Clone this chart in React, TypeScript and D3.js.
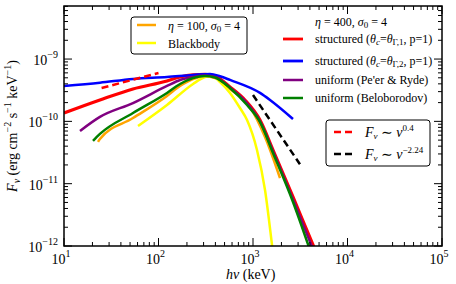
import React from "react";
import * as d3 from "d3";

const W = 456;
const H = 284;
const M = { left: 64, right: 442, top: 6, bottom: 246 };

// structured (theta_c = theta_Gamma,1, p=1) - red
const redE = [10, 24.0, 53.7, 123, 169, 232, 310.5, 396, 571, 822, 1186, 1629, 2650, 4315, 4645];
const redF = [1.36e-10, 2.2e-10, 3.31e-10, 4.45e-10, 5.16e-10, 5.56e-10, 5.66e-10, 5.36e-10, 3.56e-10, 2.2e-10, 1.05e-10, 3.47e-11, 6.12e-12, 1.04e-12, 8.0e-13];
// structured (theta_c = theta_Gamma,2, p=1) - blue
const blueE = [10, 24.0, 53.7, 123, 232, 351, 448, 571, 1186, 1514, 2650];
const blueF = [3.7e-10, 4.18e-10, 4.79e-10, 5.16e-10, 5.56e-10, 5.77e-10, 5.3e-10, 4.62e-10, 2.86e-10, 2.2e-10, 1.09e-10];
// uniform (Pe'er & Ryde) - purple
const purpleE = [14.77, 24.0, 53.7, 123, 169, 232, 310.5, 396, 571, 822, 1186, 1629, 2650, 4300];
const purpleF = [7.02e-11, 1.18e-10, 1.97e-10, 3.7e-10, 4.62e-10, 5.16e-10, 5.46e-10, 5.16e-10, 3.5e-10, 2.13e-10, 1.0e-10, 3.3e-11, 5.6e-12, 9e-13];
// uniform (Beloborodov) - green
const greenE = [20.27, 24.0, 53.7, 123, 169, 232, 310.5, 396, 571, 865, 1186, 1629, 2650, 4009];
const greenF = [4.85e-11, 6.28e-11, 1.36e-10, 2.86e-10, 3.98e-10, 4.97e-10, 5.36e-10, 5.07e-10, 3.44e-10, 1.83e-10, 9.78e-11, 3.11e-11, 5.08e-12, 8.6e-13];
// eta = 100, sigma0 = 4 - orange
const orangeE = [22.9, 24.0, 53.7, 123, 169, 232, 310.5, 396, 571, 929, 1340, 1932];
const orangeF = [4.67e-11, 5.22e-11, 1.13e-10, 2.56e-10, 3.7e-10, 4.79e-10, 5.26e-10, 4.97e-10, 3.31e-10, 1.7e-10, 5.62e-11, 1.23e-11];
// Blackbody - yellow
const yellowE = [60.7, 123, 232, 310.5, 368, 448, 571, 728, 865, 1102, 1340, 1589, 1640];
const yellowF = [8.43e-11, 1.83e-10, 3.98e-10, 5.16e-10, 5.36e-10, 4.28e-10, 2.86e-10, 1.64e-10, 1.05e-10, 3.47e-11, 7.92e-12, 1.04e-12, 7e-13];
// reference power laws
const slopeLowE = [25, 100];
const slopeLowF = [3.43e-10, 5.98e-10];
const slopeHighE = [1000, 3140];
const slopeHighF = [2.65e-10, 2.05e-11];

const xDomain = [10, 1e5];
const yDomain = [1e-12, 7.1e-9];
const xMajors = [1, 2, 3, 4, 5];
const yMajors = [-12, -11, -10, -9];

const FONT = "'Liberation Serif', 'Times New Roman', 'DejaVu Serif', serif";

export default function App() {
  const x = d3.scaleLog().domain(xDomain).range([M.left, M.right]);
  const y = d3.scaleLog().domain(yDomain).range([M.bottom, M.top]);

  const line = d3
    .line<[number, number]>()
    .x((d) => x(d[0]))
    .y((d) => y(d[1]))
    .curve(d3.curveMonotoneX);

  const mk = (e: number[], f: number[]) => line(e.map((v, i) => [v, f[i]] as [number, number])) || "";

  const xTicks: { v: number; major: boolean }[] = [];
  for (let p = 1; p < 5; p++) {
    for (let k = 1; k < 10; k++) xTicks.push({ v: k * Math.pow(10, p), major: k === 1 });
  }
  xTicks.push({ v: 1e5, major: true });
  const yTicks: { v: number; major: boolean }[] = [];
  for (let p = -12; p < -8; p++) {
    for (let k = 1; k < 10; k++) {
      const v = k * Math.pow(10, p);
      if (v <= yDomain[1] * 1.0001) yTicks.push({ v, major: k === 1 });
    }
  }

  const series = [
    { e: orangeE, f: orangeF, c: "#ffa500", w: 2.5 },
    { e: yellowE, f: yellowF, c: "#ffff00", w: 2.5 },
    { e: redE, f: redF, c: "#ff0000", w: 3.2 },
    { e: blueE, f: blueF, c: "#0000ff", w: 2.5 },
    { e: purpleE, f: purpleF, c: "#800080", w: 2.5 },
    { e: greenE, f: greenF, c: "#008000", w: 2.5 },
  ];

  const supLabel = (base: string, exp: string) => (
    <>
      <tspan>{base}</tspan>
      <tspan dy={-7} fontSize={10}>
        {exp}
      </tspan>
    </>
  );

  return (
    <svg
      width={W}
      height={H}
      style={{ position: "absolute", left: 0, top: 0, background: "#fff", fontFamily: FONT }}
    >
      <style>{`text, tspan { font-family: ${FONT}; }`}</style>
      <defs>
        <clipPath id="plot">
          <rect x={M.left} y={M.top} width={M.right - M.left} height={M.bottom - M.top} />
        </clipPath>
      </defs>
      <rect x={0} y={0} width={W} height={H} fill="#fff" />

      <g clipPath="url(#plot)">
        {series.map((s, i) => (
          <path key={i} d={mk(s.e, s.f)} fill="none" stroke={s.c} strokeWidth={s.w} />
        ))}
        <path d={mk(slopeLowE, slopeLowF)} fill="none" stroke="#ff0000" strokeWidth={2.5} strokeDasharray="7,4" />
        <path d={mk(slopeHighE, slopeHighF)} fill="none" stroke="#000" strokeWidth={2.5} strokeDasharray="7,4" />
      </g>

      <rect
        x={M.left}
        y={M.top}
        width={M.right - M.left}
        height={M.bottom - M.top}
        fill="none"
        stroke="#000"
        strokeWidth={1.5}
      />

      {xTicks.map((t, i) => {
        const px = x(t.v);
        const len = t.major ? 8 : 4;
        return (
          <g key={"xt" + i} stroke="#000" strokeWidth={1}>
            <line x1={px} x2={px} y1={M.bottom} y2={M.bottom - len} />
            <line x1={px} x2={px} y1={M.top} y2={M.top + len} />
          </g>
        );
      })}
      {yTicks.map((t, i) => {
        const py = y(t.v);
        const len = t.major ? 8 : 4;
        return (
          <g key={"yt" + i} stroke="#000" strokeWidth={1}>
            <line x1={M.left} x2={M.left + len} y1={py} y2={py} />
            <line x1={M.right} x2={M.right - len} y1={py} y2={py} />
          </g>
        );
      })}

      {xMajors.map((p) => (
        <text key={"xl" + p} x={x(Math.pow(10, p)) - 3} y={264} fontSize={14} textAnchor="middle">
          {supLabel("10", String(p))}
        </text>
      ))}
      {yMajors.map((p) => (
        <text key={"yl" + p} x={58} y={y(Math.pow(10, p)) + 6} fontSize={14} textAnchor="end">
          {supLabel("10", "\u2212" + String(-p))}
        </text>
      ))}

      <text x={226} y={279} fontSize={14}>
        <tspan fontStyle="italic">hν</tspan>
        <tspan> (keV)</tspan>
      </text>
      <text transform="translate(17,126) rotate(-90)" fontSize={14} textAnchor="middle">
        <tspan fontStyle="italic">F</tspan>
        <tspan fontStyle="italic" fontSize={10} dy={3}>ν</tspan>
        <tspan dy={-3}> (erg cm</tspan>
        <tspan fontSize={10} dy={-6}>−2</tspan>
        <tspan dy={6}> s</tspan>
        <tspan fontSize={10} dy={-6}>−1</tspan>
        <tspan dy={6}> keV</tspan>
        <tspan fontSize={10} dy={-6}>−1</tspan>
        <tspan dy={6}>)</tspan>
      </text>

      {/* legend 1 */}
      <rect x={131} y={17} width={116} height={37} rx={3} fill="#fff" stroke="#000" strokeWidth={1} />
      <line x1={137} x2={156} y1={25} y2={25} stroke="#ffa500" strokeWidth={2.5} />
      <text x={168} y={29.5} fontSize={12}>
        <tspan fontStyle="italic">η</tspan>
        <tspan> = 100, </tspan>
        <tspan fontStyle="italic">σ</tspan>
        <tspan fontSize={9} dy={2}>0</tspan>
        <tspan dy={-2}> = 4</tspan>
      </text>
      <line x1={137} x2={156} y1={43} y2={43} stroke="#ffff00" strokeWidth={2.5} />
      <text x={168} y={47.5} fontSize={12}>
        Blackbody
      </text>

      {/* legend 2 (no frame) */}
      <text x={315} y={26} fontSize={12}>
        <tspan fontStyle="italic">η</tspan>
        <tspan> = 400, </tspan>
        <tspan fontStyle="italic">σ</tspan>
        <tspan fontSize={9} dy={2}>0</tspan>
        <tspan dy={-2}> = 4</tspan>
      </text>
      {[
        { c: "#ff0000", yy: 39, sub: "Γ,1" },
        { c: "#0000ff", yy: 61, sub: "Γ,2" },
      ].map((r) => (
        <g key={r.sub}>
          <line x1={283} x2={303} y1={r.yy} y2={r.yy} stroke={r.c} strokeWidth={2.8} />
          <text x={315} y={r.yy + 4} fontSize={12}>
            <tspan>structured (</tspan>
            <tspan fontStyle="italic">θ</tspan>
            <tspan fontStyle="italic" fontSize={9} dy={2}>c</tspan>
            <tspan dy={-2}>=</tspan>
            <tspan fontStyle="italic">θ</tspan>
            <tspan fontSize={9} dy={2}>{r.sub}</tspan>
            <tspan dy={-2}>, p=1)</tspan>
          </text>
        </g>
      ))}
      <line x1={283} x2={303} y1={80} y2={80} stroke="#800080" strokeWidth={2.5} />
      <text x={315} y={84} fontSize={12}>
        uniform (Pe'er &amp; Ryde)
      </text>
      <line x1={283} x2={303} y1={98} y2={98} stroke="#008000" strokeWidth={2.5} />
      <text x={315} y={102} fontSize={12}>
        uniform (Beloborodov)
      </text>

      {/* legend 3 */}
      <rect x={326} y={120} width={104} height={46} rx={3} fill="#fff" stroke="#000" strokeWidth={1} />
      <line x1={334} x2={352} y1={132} y2={132} stroke="#ff0000" strokeWidth={2.5} strokeDasharray="7,4" />
      <text x={365} y={137} fontSize={14}>
        <tspan fontStyle="italic">F</tspan>
        <tspan fontStyle="italic" fontSize={9} dy={2}>ν</tspan>
        <tspan dy={-2}> ∼ </tspan>
        <tspan fontStyle="italic">ν</tspan>
        <tspan fontSize={9} dy={-6}>0.4</tspan>
      </text>
      <line x1={334} x2={352} y1={154} y2={154} stroke="#000" strokeWidth={2.5} strokeDasharray="7,4" />
      <text x={365} y={159} fontSize={14}>
        <tspan fontStyle="italic">F</tspan>
        <tspan fontStyle="italic" fontSize={9} dy={2}>ν</tspan>
        <tspan dy={-2}> ∼ </tspan>
        <tspan fontStyle="italic">ν</tspan>
        <tspan fontSize={9} dy={-6}>−2.24</tspan>
      </text>
    </svg>
  );
}
